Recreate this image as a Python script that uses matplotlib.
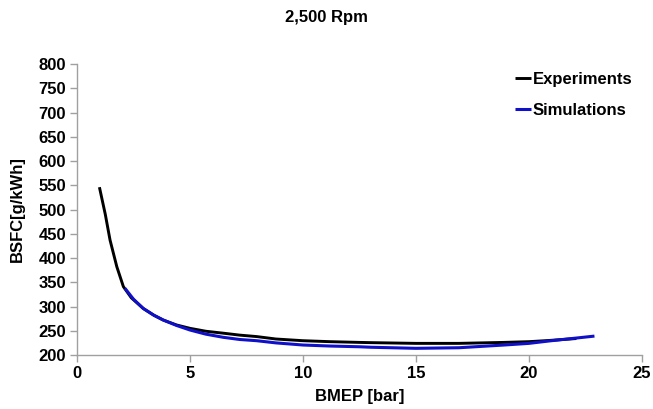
import matplotlib
matplotlib.use("Agg")
import matplotlib.pyplot as plt

# BSFC vs BMEP at 2,500 rpm
exp_bmep = [0.99, 1.25, 1.46, 1.76, 2.05, 2.4, 2.93, 3.4, 3.82, 4.4, 5.0, 5.7,
            6.47, 7.2, 7.95, 8.8, 10.0, 11.2, 12.5, 13.0, 15.0, 16.9, 18.9,
            20.0, 20.9, 21.5, 22.1]
exp_bsfc = [546, 490, 437, 382, 341, 318, 296, 282, 272, 262, 255, 249,
            245, 241, 238, 233, 229.5, 227.5, 226, 225.5, 224, 224, 226,
            227.5, 230, 232, 234]

sim_bmep = [2.12, 2.5, 2.93, 3.4, 3.82, 4.4, 5.0, 5.7, 6.47, 7.2, 7.95, 8.8,
            10.0, 11.2, 12.5, 13.0, 15.0, 16.9, 18.9, 20.0, 20.9, 21.9, 22.9]
sim_bsfc = [337.5, 315, 296, 282, 272, 261, 251.5, 243, 236.5, 232, 229.5,
            225, 220.6, 218.5, 217, 216, 213.8, 215, 220.6, 224, 229, 234, 239]

x_ticks = [0, 5, 10, 15, 20, 25]
y_ticks = list(range(200, 801, 50))

plt.rcParams["font.family"] = ["Liberation Sans", "DejaVu Sans"]
plt.rcParams["font.weight"] = "bold"
FS = 12

fig = plt.figure(figsize=(6.53, 4.09), dpi=100)
ax = fig.add_axes([0.118, 0.132, 0.865, 0.7115])

ax.plot(exp_bmep, exp_bsfc, color="black", lw=2.1, label="Experiments",
        solid_capstyle="butt")
ax.plot(sim_bmep, sim_bsfc, color="#1010c8", lw=2.2, label="Simulations",
        solid_capstyle="butt")

ax.set_xlim(0, 25)
ax.set_ylim(200, 800)
ax.set_xticks(x_ticks)
ax.set_yticks(y_ticks)

for side in ("top", "right"):
    ax.spines[side].set_visible(False)
for side in ("left", "bottom"):
    ax.spines[side].set_color("#a0a0a0")
    ax.spines[side].set_linewidth(1.0)
ax.tick_params(axis="both", direction="out", length=5, width=1.0,
               color="#a0a0a0", labelsize=FS, pad=3)
for lbl in ax.get_xticklabels() + ax.get_yticklabels():
    lbl.set_fontweight("bold")

ax.set_xlabel("BMEP [bar]", fontsize=FS, fontweight="bold", labelpad=6)
ax.set_ylabel("BSFC[g/kWh]", fontsize=FS, fontweight="bold", labelpad=10)
fig.suptitle("2,500 Rpm", x=0.5, y=0.975, fontsize=FS, fontweight="bold")

leg = ax.legend(loc="upper right", bbox_to_anchor=(1.01, 1.025),
                frameon=False, fontsize=FS, handlelength=1.0,
                handletextpad=0.1, labelspacing=0.95)
for t in leg.get_texts():
    t.set_fontweight("bold")

fig.savefig("out.png", dpi=100)
